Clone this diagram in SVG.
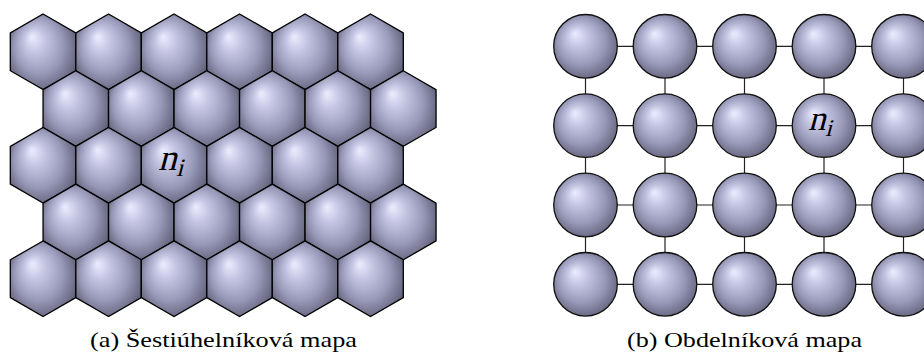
<svg xmlns="http://www.w3.org/2000/svg" xmlns:xlink="http://www.w3.org/1999/xlink" width="924" height="353" viewBox="0 0 924 353">
<style>
.hex{fill:url(#ball);stroke:#000;stroke-width:1.3;stroke-linejoin:miter}
.ball{fill:url(#ball);stroke:#111;stroke-width:1.3}
.conn line{stroke:#222;stroke-width:1.2}
.math{font-family:"Liberation Serif",serif;font-style:normal;fill:#000}
.cap{font-family:"Liberation Serif",serif;font-size:22px;fill:#000}
</style>
<defs>
<radialGradient id="ball" cx="0.5" cy="0.5" r="0.62" fx="0.33" fy="0.3">
<stop offset="0" stop-color="#ececff"/>
<stop offset="0.25" stop-color="#c6c6e4"/>
<stop offset="0.6" stop-color="#9898b8"/>
<stop offset="0.85" stop-color="#6c6c86"/>
<stop offset="1" stop-color="#4a4a5e"/>
</radialGradient>
<polygon id="hx" points="0,-37.82 32.75,-18.91 32.75,18.91 0,37.82 -32.75,18.91 -32.75,-18.91"/>
</defs>
<g id="hexmap">
<g id="h00"><use xlink:href="#hx" class="hex" x="43.05" y="51.8"/></g>
<g id="h01"><use xlink:href="#hx" class="hex" x="108.55" y="51.8"/></g>
<g id="h02"><use xlink:href="#hx" class="hex" x="174.05" y="51.8"/></g>
<g id="h03"><use xlink:href="#hx" class="hex" x="239.55" y="51.8"/></g>
<g id="h04"><use xlink:href="#hx" class="hex" x="305.05" y="51.8"/></g>
<g id="h05"><use xlink:href="#hx" class="hex" x="370.55" y="51.8"/></g>
<g id="h10"><use xlink:href="#hx" class="hex" x="75.8" y="108.53"/></g>
<g id="h11"><use xlink:href="#hx" class="hex" x="141.3" y="108.53"/></g>
<g id="h12"><use xlink:href="#hx" class="hex" x="206.8" y="108.53"/></g>
<g id="h13"><use xlink:href="#hx" class="hex" x="272.3" y="108.53"/></g>
<g id="h14"><use xlink:href="#hx" class="hex" x="337.8" y="108.53"/></g>
<g id="h15"><use xlink:href="#hx" class="hex" x="403.3" y="108.53"/></g>
<g id="h20"><use xlink:href="#hx" class="hex" x="43.05" y="165.26"/></g>
<g id="h21"><use xlink:href="#hx" class="hex" x="108.55" y="165.26"/></g>
<g id="h22"><use xlink:href="#hx" class="hex" x="174.05" y="165.26"/><text class="math" transform="translate(158,170) skewX(-15)" font-size="37">n<tspan font-size="25" dy="6" dx="1">i</tspan></text></g>
<g id="h23"><use xlink:href="#hx" class="hex" x="239.55" y="165.26"/></g>
<g id="h24"><use xlink:href="#hx" class="hex" x="305.05" y="165.26"/></g>
<g id="h25"><use xlink:href="#hx" class="hex" x="370.55" y="165.26"/></g>
<g id="h30"><use xlink:href="#hx" class="hex" x="75.8" y="221.99"/></g>
<g id="h31"><use xlink:href="#hx" class="hex" x="141.3" y="221.99"/></g>
<g id="h32"><use xlink:href="#hx" class="hex" x="206.8" y="221.99"/></g>
<g id="h33"><use xlink:href="#hx" class="hex" x="272.3" y="221.99"/></g>
<g id="h34"><use xlink:href="#hx" class="hex" x="337.8" y="221.99"/></g>
<g id="h35"><use xlink:href="#hx" class="hex" x="403.3" y="221.99"/></g>
<g id="h40"><use xlink:href="#hx" class="hex" x="43.05" y="278.72"/></g>
<g id="h41"><use xlink:href="#hx" class="hex" x="108.55" y="278.72"/></g>
<g id="h42"><use xlink:href="#hx" class="hex" x="174.05" y="278.72"/></g>
<g id="h43"><use xlink:href="#hx" class="hex" x="239.55" y="278.72"/></g>
<g id="h44"><use xlink:href="#hx" class="hex" x="305.05" y="278.72"/></g>
<g id="h45"><use xlink:href="#hx" class="hex" x="370.55" y="278.72"/></g>
</g>
<g id="connectors" class="conn">
<line x1="585.5" y1="46.3" x2="903.5" y2="46.3"/>
<line x1="585.5" y1="125.6" x2="924" y2="125.6"/>
<line x1="585.5" y1="205" x2="924" y2="205"/>
<line x1="585.5" y1="284.3" x2="924" y2="284.3"/>
<line x1="585.5" y1="46.3" x2="585.5" y2="284.3"/>
<line x1="665" y1="46.3" x2="665" y2="284.3"/>
<line x1="744.5" y1="46.3" x2="744.5" y2="284.3"/>
<line x1="824" y1="46.3" x2="824" y2="284.3"/>
<line x1="903.5" y1="46.3" x2="903.5" y2="284.3"/>
</g>
<g id="gridmap">
<g id="c00"><circle class="ball" cx="585.5" cy="46.3" r="31.8"/></g>
<g id="c01"><circle class="ball" cx="665" cy="46.3" r="31.8"/></g>
<g id="c02"><circle class="ball" cx="744.5" cy="46.3" r="31.8"/></g>
<g id="c03"><circle class="ball" cx="824" cy="46.3" r="31.8"/></g>
<g id="c04"><circle class="ball" cx="903.5" cy="46.3" r="31.8"/></g>
<g id="c10"><circle class="ball" cx="585.5" cy="125.6" r="31.8"/></g>
<g id="c11"><circle class="ball" cx="665" cy="125.6" r="31.8"/></g>
<g id="c12"><circle class="ball" cx="744.5" cy="125.6" r="31.8"/></g>
<g id="c13"><circle class="ball" cx="824" cy="125.6" r="31.8"/><text class="math" transform="translate(808,130) skewX(-15)" font-size="35">n<tspan font-size="24" dy="6" dx="1">i</tspan></text></g>
<g id="c14"><circle class="ball" cx="903.5" cy="125.6" r="31.8"/></g>
<g id="c20"><circle class="ball" cx="585.5" cy="205" r="31.8"/></g>
<g id="c21"><circle class="ball" cx="665" cy="205" r="31.8"/></g>
<g id="c22"><circle class="ball" cx="744.5" cy="205" r="31.8"/></g>
<g id="c23"><circle class="ball" cx="824" cy="205" r="31.8"/></g>
<g id="c24"><circle class="ball" cx="903.5" cy="205" r="31.8"/></g>
<g id="c30"><circle class="ball" cx="585.5" cy="284.3" r="31.8"/></g>
<g id="c31"><circle class="ball" cx="665" cy="284.3" r="31.8"/></g>
<g id="c32"><circle class="ball" cx="744.5" cy="284.3" r="31.8"/></g>
<g id="c33"><circle class="ball" cx="824" cy="284.3" r="31.8"/></g>
<g id="c34"><circle class="ball" cx="903.5" cy="284.3" r="31.8"/></g>
</g>
<text class="cap" x="90" y="346.5" textLength="267" lengthAdjust="spacingAndGlyphs">(a) Šestiúhelníková mapa</text>
<text class="cap" x="627" y="346.5" textLength="235" lengthAdjust="spacingAndGlyphs">(b) Obdelníková mapa</text>
</svg>
